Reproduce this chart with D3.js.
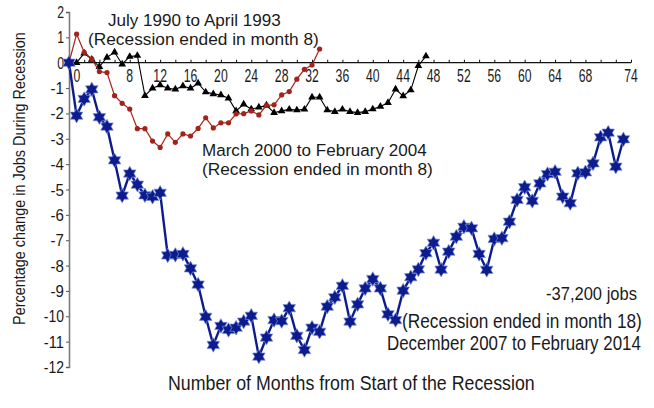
<!DOCTYPE html>
<html>
<head>
<meta charset="utf-8">
<script src="https://cdn.jsdelivr.net/npm/d3@7"></script>
<style>
  html, body { margin: 0; padding: 0; background: #fff; }
  svg { display: block; }
  text { font-family: "Liberation Sans", Arial, sans-serif; fill: #1a1a1a; }
</style>
</head>
<body>
<svg id="chart" width="654" height="408"></svg>
<script>
// ---- data ----
const series1990 = [0, 0.0, 0.37, 0.13, -0.16, 0.21, 0.41, -0.06, 0.24, 0.28, -1.30, -1.01, -0.88, -1.01, -1.05, -0.92, -1.01, -0.81, -1.16, -1.23, -1.27, -1.40, -1.90, -1.64, -1.83, -1.76, -1.68, -1.97, -1.90, -1.84, -1.87, -1.84, -1.36, -1.36, -1.87, -1.93, -1.84, -1.93, -1.97, -1.93, -1.83, -1.73, -1.58, -1.05, -1.31, -1.08, -0.12, 0.26];
const series2000 = [0, 1.13, 0.41, 0.15, -0.35, -0.39, -1.30, -1.60, -1.83, -2.60, -2.60, -3.09, -3.34, -2.81, -3.14, -2.81, -2.89, -2.59, -2.17, -2.57, -2.37, -2.37, -2.02, -2.01, -1.90, -2.06, -1.68, -1.66, -1.27, -1.14, -0.65, -0.26, -0.09, 0.54];
const series2007 = [0, -2.09, -1.43, -1.05, -2.15, -2.52, -3.85, -5.24, -4.37, -4.81, -5.23, -5.29, -5.13, -7.60, -7.58, -7.54, -8.11, -8.75, -10.02, -11.13, -10.38, -10.54, -10.45, -10.21, -9.98, -11.59, -10.84, -10.15, -10.19, -9.68, -10.77, -11.33, -10.45, -10.61, -9.62, -9.25, -8.80, -10.21, -9.53, -8.90, -8.53, -8.90, -9.92, -10.15, -8.99, -8.46, -8.15, -7.51, -7.10, -8.16, -7.45, -6.86, -6.47, -6.53, -7.54, -8.17, -6.95, -6.92, -6.27, -5.41, -4.91, -5.45, -4.76, -4.39, -4.30, -5.28, -5.54, -4.36, -4.32, -3.97, -2.94, -2.76, -4.10, -3.02];
const xTickLabels = [0, 8, 12, 16, 20, 24, 28, 32, 36, 40, 44, 48, 52, 56, 60, 64, 68, 74];
const yTickLabels = [2, 1, 0, -1, -2, -3, -4, -5, -6, -7, -8, -9, -10, -11, -12];
const xTitle = "Number of Months from Start of the Recession";
const yTitle = "Percentage change in Jobs During Recession";

// ---- layout ----
const svg = d3.select("#chart");
const x = d3.scaleLinear().domain([0, 74]).range([69, 631]);
const y = d3.scaleLinear().domain([-12, 2]).range([367, 12]);
const digitW = 6.8, minusW = 6.6;
const labelW = s => String(s).replace("-", "").length * digitW + (String(s).startsWith("-") ? minusW : 0);

// place a text with its left edge at (x0, baseline y0), squeezed horizontally to width w
function fitText(parent, str, x0, y0, w, fs, rotate) {
  const t = parent.append("text").style("font-size", fs + "px").text(str);
  const nat = t.node().getComputedTextLength();
  const s = w / nat;
  t.attr("transform", `translate(${x0},${y0})${rotate ? " rotate(-90)" : ""} scale(${s},1)`);
  return t;
}

// y axis
const yAxis = d3.axisLeft(y).tickValues(yTickLabels).tickSize(3).tickFormat("");
const gy = svg.append("g").attr("transform", `translate(${x(0)},0)`).call(yAxis);
gy.select(".domain").attr("stroke", "#7a7a7a").attr("stroke-width", 1.6);
gy.selectAll(".tick line").attr("stroke", "#555");
const gyl = svg.append("g");
yTickLabels.forEach(d => fitText(gyl, String(d), 64 - labelW(d), y(d) + 6, labelW(d), 17));

// x axis (at y = 0), ticks pointing up
const xAxis = d3.axisTop(x).tickValues(d3.range(0, 75, 2)).tickSize(3).tickFormat("");
const gx = svg.append("g").attr("transform", `translate(0,${y(0)})`).call(xAxis);
gx.select(".domain").attr("stroke", "#111").attr("stroke-width", 1.2).attr("d", `M${x(0)},0H${x(74)}`);
gx.selectAll(".tick line").attr("stroke", "#111");
const gxl = svg.append("g");
xTickLabels.forEach(d => fitText(gxl, String(d), (d === 0 ? x(0) + 8 : x(d)) - labelW(d) / 2, y(0) + 19, labelW(d), 18));

// lines
const line = d3.line().x((d, i) => x(i)).y(d => y(d));

// 1990 series: black triangles
svg.append("path").datum(series1990).attr("d", line)
  .attr("fill", "none").attr("stroke", "#000").attr("stroke-width", 1.1);
svg.append("g").selectAll("path").data(series1990).join("path")
  .attr("transform", (d, i) => `translate(${x(i)},${y(d)})`)
  .attr("d", d3.symbol().type(d3.symbolTriangle).size(26))
  .attr("fill", "#000");

// 2000 series: red dots
svg.append("path").datum(series2000).attr("d", line)
  .attr("fill", "none").attr("stroke", "#a3231a").attr("stroke-width", 1.2);
svg.append("g").selectAll("circle").data(series2000).join("circle")
  .attr("cx", (d, i) => x(i)).attr("cy", d => y(d)).attr("r", 2.6)
  .attr("fill", "#a3231a");

// 2007 series: blue six-pointed stars
const hexagram = {
  draw(ctx, size) {
    const R = Math.sqrt(size) / 2, r = R / Math.sqrt(3);
    for (let k = 0; k < 12; k++) {
      const a = -Math.PI / 2 + k * Math.PI / 6;
      const rr = k % 2 === 0 ? R : r;
      if (k === 0) ctx.moveTo(rr * Math.cos(a), rr * Math.sin(a));
      else ctx.lineTo(rr * Math.cos(a), rr * Math.sin(a));
    }
    ctx.closePath();
  }
};
svg.append("path").datum(series2007).attr("d", line)
  .attr("fill", "none").attr("stroke", "#0c1c8e").attr("stroke-width", 2.4);
svg.append("g").selectAll("path").data(series2007).join("path")
  .attr("transform", (d, i) => `translate(${x(i)},${y(d)})`)
  .attr("d", d3.symbol().type(hexagram).size(210))
  .attr("fill", "#0c1c8e").attr("stroke", "#7d8fd6").attr("stroke-width", 0.7);

// annotations (left edge, baseline, width, font size)
const notes = [
  { t: "July 1990 to April 1993", x: 108, y: 26, w: 173, fs: 17 },
  { t: "(Recession ended in month 8)", x: 88, y: 45, w: 231, fs: 17 },
  { t: "March 2000 to February 2004", x: 202, y: 156, w: 225, fs: 17 },
  { t: "(Recession ended in month 8)", x: 202, y: 175, w: 231, fs: 17 },
  { t: "-37,200 jobs", x: 546, y: 300, w: 91, fs: 17.5 },
  { t: "(Recession ended in month 18)", x: 402, y: 328, w: 240, fs: 19.5 },
  { t: "December 2007 to February 2014", x: 387, y: 350, w: 254, fs: 19.5 }
];
const gn = svg.append("g");
notes.forEach(d => fitText(gn, d.t, d.x, d.y, d.w, d.fs));

// axis titles
fitText(svg, xTitle, 168, 390, 367, 19.5);
fitText(svg, yTitle, 25, 325, 293, 16, true);
</script>
</body>
</html>
